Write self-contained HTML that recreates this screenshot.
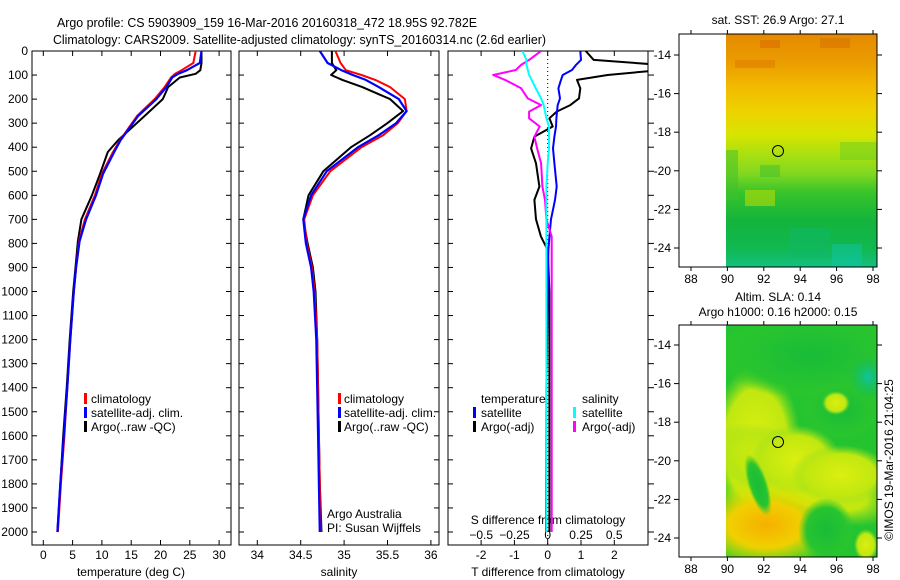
<!DOCTYPE html>
<html><head><meta charset="utf-8">
<style>
html,body{margin:0;padding:0;background:#fff;}
svg{display:block;font-family:"Liberation Sans",sans-serif;}
text{fill:#000;}
</style></head>
<body>
<svg id="chart" width="900" height="580" viewBox="0 0 900 580" xmlns="http://www.w3.org/2000/svg">
<defs>
  <clipPath id="c1"><rect x="32" y="51" width="199" height="494"/></clipPath>
  <clipPath id="c2"><rect x="239" y="51" width="200" height="494"/></clipPath>
  <clipPath id="c3"><rect x="448" y="51" width="200" height="494"/></clipPath>
  <linearGradient id="sstgrad" x1="0" y1="0" x2="0" y2="1">
    <stop offset="0" stop-color="#e58a00"/>
    <stop offset="0.12" stop-color="#eb9c00"/>
    <stop offset="0.22" stop-color="#f2b800"/>
    <stop offset="0.33" stop-color="#eed200"/>
    <stop offset="0.43" stop-color="#d8e400"/>
    <stop offset="0.52" stop-color="#a8e010"/>
    <stop offset="0.60" stop-color="#80d820"/>
    <stop offset="0.68" stop-color="#38c42a"/>
    <stop offset="0.80" stop-color="#14b43c"/>
    <stop offset="0.92" stop-color="#10b850"/>
    <stop offset="1" stop-color="#14c080"/>
  </linearGradient>
  <radialGradient id="slaOrange" cx="0.5" cy="0.5" r="0.5">
    <stop offset="0" stop-color="#f6b000"/>
    <stop offset="0.5" stop-color="#f0d000"/>
    <stop offset="1" stop-color="#d8ec00" stop-opacity="0"/>
  </radialGradient>
  <radialGradient id="slaYellow" cx="0.5" cy="0.5" r="0.5">
    <stop offset="0" stop-color="#dcee10"/>
    <stop offset="0.7" stop-color="#c0e810"/>
    <stop offset="1" stop-color="#90dc20" stop-opacity="0"/>
  </radialGradient>
  <radialGradient id="slaGreen" cx="0.5" cy="0.5" r="0.5">
    <stop offset="0" stop-color="#18bc38"/>
    <stop offset="0.7" stop-color="#28c430"/>
    <stop offset="1" stop-color="#30c828" stop-opacity="0"/>
  </radialGradient>
  <radialGradient id="slaCyan" cx="0.5" cy="0.5" r="0.5">
    <stop offset="0" stop-color="#10c4a0"/>
    <stop offset="1" stop-color="#10b860" stop-opacity="0"/>
  </radialGradient>
</defs>

<text x="57" y="27" font-size="13" textLength="420" lengthAdjust="spacingAndGlyphs">Argo profile: CS 5903909_159 16-Mar-2016 20160318_472 18.95S 92.782E</text>
<text x="53" y="44" font-size="13" textLength="493" lengthAdjust="spacingAndGlyphs">Climatology: CARS2009. Satellite-adjusted climatology: synTS_20160314.nc (2.6d earlier)</text>

<g id="axes"></g>
<g id="series"></g>

<g font-size="12">
  <rect x="84" y="393" width="3" height="11" fill="#ff0000"/><text x="91" y="403">climatology</text>
  <rect x="84" y="407" width="3" height="11" fill="#0000ff"/><text x="91" y="417">satellite-adj. clim.</text>
  <rect x="84" y="421" width="3" height="11" fill="#000"/><text x="91" y="431">Argo(..raw -QC)</text>
</g>
<g font-size="12">
  <rect x="338" y="393" width="3" height="11" fill="#ff0000"/><text x="344" y="403">climatology</text>
  <rect x="338" y="407" width="3" height="11" fill="#0000ff"/><text x="344" y="417">satellite-adj. clim.</text>
  <rect x="338" y="421" width="3" height="11" fill="#000"/><text x="344" y="431">Argo(..raw -QC)</text>
</g>
<g font-size="12">
  <text x="327" y="518">Argo Australia</text>
  <text x="327" y="532">PI: Susan Wijffels</text>
</g>
<g font-size="12">
  <text x="481" y="403">temperature</text>
  <text x="582" y="403">salinity</text>
  <rect x="473" y="407" width="3" height="11" fill="#0000ff"/><text x="481" y="417">satellite</text>
  <rect x="473" y="421" width="3" height="11" fill="#000"/><text x="481" y="431">Argo(-adj)</text>
  <rect x="573" y="407" width="3" height="11" fill="#00ffff"/><text x="582" y="417">satellite</text>
  <rect x="573" y="421" width="3" height="11" fill="#ff00ff"/><text x="582" y="431">Argo(-adj)</text>
</g>

<g>
  <text x="778" y="24" font-size="12" text-anchor="middle">sat. SST: 26.9 Argo: 27.1</text>
  <rect x="726" y="34" width="151" height="233" fill="url(#sstgrad)"/>
  <g opacity="0.5">
    <rect x="760" y="40" width="20" height="8" fill="#d86800"/>
    <rect x="820" y="38" width="30" height="10" fill="#d87000"/>
    <rect x="735" y="60" width="40" height="8" fill="#e07800"/>
    <rect x="726" y="150" width="12" height="50" fill="#40c030"/>
    <rect x="760" y="165" width="20" height="12" fill="#40c030"/>
    <rect x="840" y="142" width="37" height="18" fill="#70d020"/>
    <rect x="745" y="190" width="30" height="16" fill="#d0e000"/>
    <rect x="790" y="228" width="40" height="30" fill="#10b868"/>
    <rect x="832" y="244" width="30" height="23" fill="#10c4a8"/>
  </g>
  <rect x="679" y="34" width="198" height="233" fill="none" stroke="#000" stroke-width="1"/>
  <circle cx="778" cy="151" r="5.5" fill="none" stroke="#000" stroke-width="1"/>
  <g id="map1ticks"></g>
</g>
<g>
  <text x="778" y="301" font-size="12" text-anchor="middle">Altim. SLA: 0.14</text>
  <text x="778" y="316" font-size="12" text-anchor="middle">Argo h1000: 0.16 h2000: 0.15</text>
  <svg x="726" y="325" width="151" height="232">
    <rect x="0" y="0" width="151" height="232" fill="#24c430"/>
    <ellipse cx="30" cy="120" rx="45" ry="80" fill="url(#slaYellow)"/>
    <ellipse cx="75" cy="150" rx="100" ry="38" transform="rotate(22 75 150)" fill="url(#slaYellow)"/>
    <ellipse cx="70" cy="135" rx="45" ry="35" fill="url(#slaYellow)"/>
    <ellipse cx="115" cy="150" rx="50" ry="30" fill="url(#slaYellow)"/>
    <ellipse cx="40" cy="200" rx="75" ry="45" fill="url(#slaOrange)"/>
    <ellipse cx="32" cy="160" rx="10" ry="32" transform="rotate(-18 32 160)" fill="url(#slaGreen)"/>
    <ellipse cx="100" cy="205" rx="28" ry="32" fill="url(#slaGreen)"/>
    <ellipse cx="85" cy="30" rx="95" ry="45" fill="url(#slaGreen)"/>
    <ellipse cx="115" cy="85" rx="40" ry="30" fill="url(#slaGreen)"/>
    <ellipse cx="110" cy="78" rx="14" ry="12" fill="url(#slaYellow)"/>
    <ellipse cx="142" cy="52" rx="20" ry="22" fill="url(#slaCyan)"/>
    <ellipse cx="140" cy="220" rx="12" ry="16" fill="url(#slaYellow)"/>
  </svg>
  <rect x="679" y="325" width="198" height="232" fill="none" stroke="#000" stroke-width="1"/>
  <circle cx="778" cy="442" r="5.5" fill="none" stroke="#000" stroke-width="1"/>
  <g id="map2ticks"></g>
</g>
<text transform="translate(893,460) rotate(-90)" font-size="12" text-anchor="middle">©IMOS 19-Mar-2016 21:04:25</text>

<script>
const depthT = [0,50,80,95,110,150,200,270,370,420,510,600,700,790,900,1000,1200,1400,1600,1800,2000];
const tempArgo = [27.0,27.0,26.8,26.0,23.3,21.3,20.4,17.3,12.8,11.0,9.7,8.3,6.5,5.9,5.5,5.1,4.5,4.0,3.4,2.9,2.4];
const tempClim = [26.0,25.6,23.6,22.5,21.8,20.7,19.0,16.0,13.1,11.9,10.0,8.8,7.1,6.1,5.6,5.2,4.6,4.1,3.6,3.0,2.5];
const tempSat  = [27.0,26.7,24.5,23.0,22.0,21.0,19.3,16.2,13.2,12.1,10.2,9.0,7.3,6.2,5.6,5.2,4.6,4.1,3.5,2.9,2.4];

const depthS = [0,50,80,100,120,150,200,250,300,350,400,500,600,700,800,900,1000,1200,1400,1600,1800,2000];
const salArgo = [34.86,34.86,34.91,34.85,34.98,35.21,35.53,35.68,35.50,35.30,35.08,34.76,34.59,34.53,34.58,34.64,34.67,34.69,34.70,34.71,34.72,34.74];
const salClim = [34.90,34.96,35.02,35.20,35.36,35.53,35.70,35.72,35.62,35.45,35.20,34.84,34.64,34.54,34.57,34.63,34.66,34.69,34.70,34.71,34.72,34.73];
const salSat  = [34.72,34.81,34.97,35.10,35.25,35.40,35.63,35.72,35.60,35.40,35.16,34.80,34.62,34.53,34.56,34.62,34.65,34.68,34.69,34.70,34.71,34.72];

const depthD = [0,37,58,79,100,120,155,197,225,252,280,314,356,405,467,564,619,700,772,827,1000,1400,2000];
const tDiffArgo = [1.14,1.38,3.4,3.4,1.8,0.88,0.98,0.94,0.68,0.27,0.05,0.15,-0.40,-0.50,-0.35,-0.25,-0.40,-0.35,-0.20,0.0,0.05,0.05,0.05];
const tDiffSat  = [0.98,1.0,0.85,0.73,0.45,0.40,0.32,0.37,0.30,0.28,0.26,0.25,0.20,0.16,0.20,0.27,0.22,0.10,0.05,0.02,0.0,-0.04,-0.05];
const sDiffSat  = [-0.19,-0.16,-0.16,-0.15,-0.14,-0.12,-0.09,-0.05,-0.03,-0.02,-0.01,0.01,0.01,0.01,0.0,-0.01,-0.01,-0.01,-0.01,-0.01,-0.01,-0.01,-0.01];
const sDiffArgo = [-0.05,-0.14,-0.20,-0.24,-0.41,-0.32,-0.20,-0.15,-0.05,-0.14,-0.14,-0.06,-0.10,-0.08,-0.05,-0.04,-0.02,-0.01,0.03,0.03,0.03,0.03,0.03];

const depthTicks = [0,100,200,300,400,500,600,700,800,900,1000,1100,1200,1300,1400,1500,1600,1700,1800,1900,2000];
const tempTicks = [0,5,10,15,20,25,30];
const salTicks = [34,34.5,35,35.5,36];
const tDiffTicks = [-2,-1,0,1,2];
const sDiffTicks = [-0.5,-0.25,0,0.25,0.5];
const latTicks = [-14,-16,-18,-20,-22,-24];
const lonTicks = [88,90,92,94,96,98];

const TOP = 51, BOT = 545;
const yD = d => TOP + d * 0.2405;
const xT = t => 43.3 + t * 5.86;
const xS = s => 257.3 + (s - 34) * 86.8;
const xTD = v => 547.7 + v * 33.3;
const xSD = v => 547.7 + v * 133;
const mapLat1 = l => 55 + (-14 - l) * 19.3;
const mapLat2 = l => 345 + (-14 - l) * 19.3;
const mapLon = l => 691 + (l - 88) * 18.2;

const NS = 'http://www.w3.org/2000/svg';
function mk(tag, attrs, parent, text) {
  const e = document.createElementNS(NS, tag);
  for (const k in attrs) e.setAttribute(k, attrs[k]);
  if (text !== undefined) e.textContent = text;
  parent.appendChild(e);
  return e;
}
const axes = document.getElementById('axes');
const series = document.getElementById('series');

const panels = [[32,231,'temperature-panel'],[239,439,'salinity-panel'],[448,648,'difference-panel']];
panels.forEach(p => {
  const r = mk('rect', {x:p[0], y:TOP, width:p[1]-p[0], height:BOT-TOP, fill:'none', stroke:'#000', 'stroke-width':1}, axes);
  
  
  depthTicks.forEach(d => {
    mk('line', {x1:p[0], x2:p[0]+5, y1:yD(d), y2:yD(d), stroke:'#000'}, axes);
    if (p[0] === 448) mk('line', {x1:p[1], x2:p[1]+6, y1:yD(d), y2:yD(d), stroke:'#000'}, axes);
    else mk('line', {x1:p[1]-5, x2:p[1], y1:yD(d), y2:yD(d), stroke:'#000'}, axes);
  });
});
depthTicks.forEach(d => {
  const t = mk('text', {x:28, y:yD(d)+4, 'font-size':12, 'text-anchor':'end'}, axes, String(d));
  
  
});
function xTicks(vals, sc, labelY) {
  vals.forEach(v => {
    const x = sc(v);
    mk('line', {x1:x, x2:x, y1:BOT, y2:BOT-5, stroke:'#000'}, axes);
    mk('line', {x1:x, x2:x, y1:TOP, y2:TOP+5, stroke:'#000'}, axes);
    const t = mk('text', {x:x, y:labelY, 'font-size':12, 'text-anchor':'middle'}, axes, String(v));
    
    
  });
}
xTicks(tempTicks, xT, 559);
xTicks(salTicks, xS, 559);
xTicks(tDiffTicks, xTD, 559);
sDiffTicks.forEach(v => {
  const t = mk('text', {x:xSD(v), y:539, 'font-size':12, 'text-anchor':'middle'}, axes, String(v).replace('-','\u2212'));
  
  
});
[['temperature (deg C)',131,576,'temperature-axis-title'],['salinity',339,576,'salinity-axis-title'],['T difference from climatology',548,576,'t-diff-axis-title'],['S difference from climatology',548,524,'s-diff-axis-title']].forEach(a => {
  const t = mk('text', {x:a[1], y:a[2], 'font-size':12, 'text-anchor':'middle'}, axes, a[0]);
  
  
});
const zl = mk('line', {x1:547.7, x2:547.7, y1:TOP, y2:BOT, stroke:'#000', 'stroke-dasharray':'1,3'}, axes);



function line(depths, vals, sc, color, w, clip, name) {
  const pts = depths.map((d, i) => sc(vals[i]).toFixed(1) + ',' + yD(d).toFixed(1)).join(' ');
  const pl = mk('polyline', {points:pts, fill:'none', stroke:color, 'stroke-width':w, 'clip-path':'url(#' + clip + ')', 'stroke-linejoin':'round'}, series);
  
  
}
line(depthT, tempArgo, xT, '#000', 2, 'c1', 'temp-argo-line');
line(depthT, tempClim, xT, '#ff0000', 2, 'c1', 'temp-climatology-line');
line(depthT, tempSat, xT, '#0000ff', 2.2, 'c1', 'temp-satellite-line');
line(depthS, salArgo, xS, '#000', 2, 'c2', 'sal-argo-line');
line(depthS, salClim, xS, '#ff0000', 2, 'c2', 'sal-climatology-line');
line(depthS, salSat, xS, '#0000ff', 2.2, 'c2', 'sal-satellite-line');
line(depthD, tDiffArgo, xTD, '#000', 2, 'c3', 't-diff-argo-line');
line(depthD, tDiffSat, xTD, '#0000ff', 2, 'c3', 't-diff-satellite-line');
line(depthD, sDiffArgo, xSD, '#ff00ff', 2, 'c3', 's-diff-argo-line');
line(depthD, sDiffSat, xSD, '#00ffff', 2, 'c3', 's-diff-satellite-line');

function mapTicks(gid, latSc, top, bot) {
  const g = document.getElementById(gid);
  latTicks.forEach(l => {
    const y = latSc(l);
    mk('line', {x1:679, x2:674, y1:y, y2:y, stroke:'#000'}, g);
    mk('line', {x1:877, x2:882, y1:y, y2:y, stroke:'#000'}, g);
    const t = mk('text', {x:671, y:y+4, 'font-size':12, 'text-anchor':'end'}, g, '-' + Math.abs(l));
    
    
  });
  lonTicks.forEach(l => {
    const x = mapLon(l);
    mk('line', {x1:x, x2:x, y1:top, y2:top-4, stroke:'#000'}, g);
    mk('line', {x1:x, x2:x, y1:bot, y2:bot+4, stroke:'#000'}, g);
    const t = mk('text', {x:x, y:bot+16, 'font-size':12, 'text-anchor':'middle'}, g, String(l));
    
    
  });
}
mapTicks('map1ticks', mapLat1, 34, 267);
mapTicks('map2ticks', mapLat2, 325, 557);
</script>
</svg>
</body></html>
